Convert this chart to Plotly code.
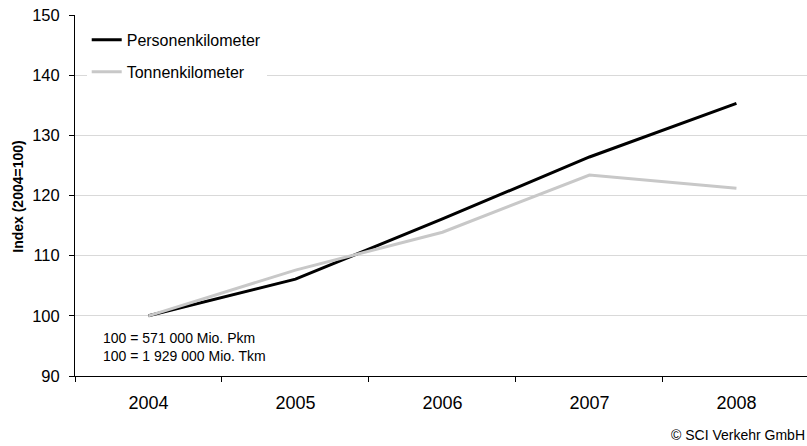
import plotly.graph_objects as go

# Daten (Index 2004 = 100)
jahre = ['2004', '2005', '2006', '2007', '2008']
personenkilometer = [100, 106.1, 116.1, 126.4, 135.3]
tonnenkilometer = [100, 107.6, 113.9, 123.4, 121.2]

FONT = 'Liberation Sans, Arial, sans-serif'

fig = go.Figure()

fig.add_trace(go.Scatter(x=jahre, y=personenkilometer, mode='lines', name='Personenkilometer',
                         line=dict(color='#000000', width=3), legendgroup='a'))
fig.add_trace(go.Scatter(x=jahre, y=tonnenkilometer, mode='lines', name='Tonnenkilometer',
                         line=dict(color='#c8c8c8', width=3), legendgroup='b'))

# Bezugswerte
fig.add_annotation(xref='paper', yref='paper', x=0.035, y=0.105, xanchor='left', yanchor='middle',
                   text='100 = 571 000 Mio. Pkm', showarrow=False, font=dict(size=14, color='#000'))
fig.add_annotation(xref='paper', yref='paper', x=0.035, y=0.055, xanchor='left', yanchor='middle',
                   text='100 = 1 929 000 Mio. Tkm', showarrow=False, font=dict(size=14, color='#000'))

# Achsentitel
fig.add_annotation(xref='paper', yref='paper', x=-0.079, y=0.497, xanchor='center', yanchor='middle',
                   text='<b>Index (2004=100)</b>', textangle=-90, showarrow=False,
                   font=dict(size=14, color='#000'))

# Quelle
fig.add_annotation(xref='paper', yref='paper', x=1.0, y=-0.163, xanchor='right', yanchor='middle',
                   text='© SCI Verkehr GmbH', showarrow=False, font=dict(size=14, color='#000'))

fig.update_xaxes(type='category', range=[-0.5, 4.48], tickson='boundaries', ticks='outside',
                 ticklen=5, tickcolor='#000', showline=True, linecolor='#000', linewidth=1,
                 showgrid=False, tickfont=dict(size=18, color='#000'), ticklabelstandoff=10)
fig.update_yaxes(range=[90, 150], dtick=10, ticks='outside', ticklen=5, tickcolor='#000',
                 showline=True, linecolor='#000', linewidth=1, showgrid=True,
                 gridcolor='#d9d9d9', gridwidth=1, zeroline=False,
                 tickfont=dict(size=16.5, color='#000'), ticklabelstandoff=6)

fig.update_layout(
    width=807, height=446,
    margin=dict(l=75, r=0, t=15, b=70, autoexpand=False),
    paper_bgcolor='white', plot_bgcolor='white',
    font=dict(family=FONT, color='#000'),
    showlegend=True,
    legend=dict(x=0.016, y=0.978, xanchor='left', yanchor='top', bgcolor='white',
                font=dict(size=16, color='#000'), tracegroupgap=8, traceorder='grouped'),
)

fig.write_html('out.html', config={'displayModeBar': False},
               post_script="document.body.style.margin='0';")
